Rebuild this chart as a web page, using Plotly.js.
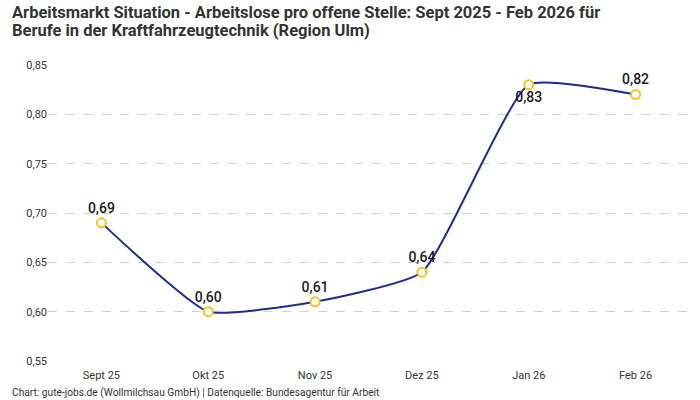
<!DOCTYPE html>
<html>
<head>
<meta charset="utf-8">
<script src="https://cdn.plot.ly/plotly-3.0.1.min.js"></script>
<style>
  html, body { margin: 0; padding: 0; background: #fff; }
  #chart { width: 700px; height: 400px; }
</style>
</head>
<body>
<div id="chart"></div>
<script>
const months = ['Sept 25', 'Okt 25', 'Nov 25', 'Dez 25', 'Jan 26', 'Feb 26'];
const ratio = [0.69, 0.60, 0.61, 0.64, 0.83, 0.82];
const labelPos = ['top center', 'top center', 'top center', 'top center', 'bottom center', 'top center'];
const yTicks = [0.55, 0.60, 0.65, 0.70, 0.75, 0.80, 0.85];
const titleLines = [
    'Arbeitsmarkt Situation - Arbeitslose pro offene Stelle: Sept 2025 - Feb 2026 für',
    'Berufe in der Kraftfahrzeugtechnik (Region Ulm)'
];

const FONT = 'Roboto, sans-serif';
// plot area: 641 x 296 px (l=48, t=65), used to place texts outside it
const PW = 641, PH = 296;
const px = x => (x - 48) / PW;
const py = y => (361 - y) / PH;

const trace = {
    x: months,
    y: ratio,
    type: 'scatter',
    mode: 'lines+markers+text',
    line: { color: '#1b2e8f', width: 2, shape: 'spline', smoothing: 0.45 },
    marker: { size: 9, color: '#fff', line: { color: '#f7c11f', width: 2 } },
    text: ratio.map(v => v.toFixed(2).replace('.', ',')),
    textposition: labelPos,
    textfont: { family: FONT, size: 14, color: '#1a1a1a', weight: 500 },
    cliponaxis: false,
    hoverinfo: 'x+y'
};

const layout = {
    width: 700, height: 400,
    paper_bgcolor: '#fff', plot_bgcolor: '#fff',
    font: { family: FONT, color: '#333', size: 11 },
    separators: ',.',
    showlegend: false,
    margin: { t: 65, b: 39, l: 48, r: 11 },
    xaxis: {
        type: 'category', range: [-0.5, 5.5],
        showgrid: false, showline: false, zeroline: false,
        ticks: '', ticklabelstandoff: 6, tickfont: { size: 11, color: '#333' }
    },
    yaxis: {
        range: [0.55, 0.85], tickvals: yTicks, tickformat: '.2f',
        gridcolor: '#cfcfcf', griddash: 'dash', zeroline: false, showline: false,
        ticks: '', tickfont: { size: 11, color: '#333' }
    },
    annotations: [
        ...titleLines.map((t, i) => ({
            text: '<b>' + t + '</b>',
            xref: 'paper', yref: 'paper', x: px(10), y: py(12 + 18 * i),
            xanchor: 'left', yanchor: 'middle', showarrow: false,
            font: { family: FONT, size: 16.5, color: '#333' }
        })),
        {
            text: 'Chart: gute-jobs.de (Wollmilchsau GmbH) | Datenquelle: Bundesagentur für Arbeit',
            xref: 'paper', yref: 'paper', x: px(10), y: py(393),
            xanchor: 'left', yanchor: 'middle', showarrow: false,
            font: { family: FONT, size: 10.2, color: '#333' }
        }
    ]
};

Plotly.newPlot('chart', [trace], layout, { displayModeBar: false, staticPlot: true });
</script>
</body>
</html>
